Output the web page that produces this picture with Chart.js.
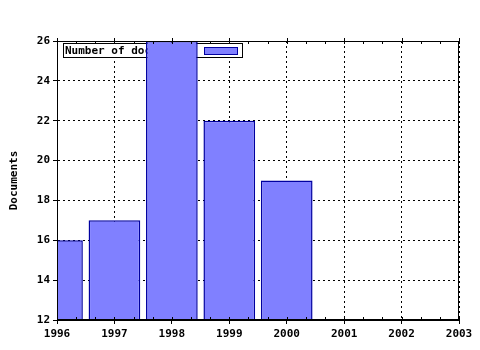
<!DOCTYPE html>
<html>
<head>
<meta charset="utf-8">
<script src="https://cdn.jsdelivr.net/npm/chart.js@4/dist/chart.umd.min.js"></script>
<style>
  html, body { margin: 0; padding: 0; background: #fff; }
  #wrap { width: 480px; height: 350px; }
</style>
</head>
<body>
<div id="wrap"><canvas id="docsChart" width="480" height="350"></canvas></div>
<script>
// Données
const years = [1996, 1997, 1998, 1999, 2000];
const documents = [16, 17, 26, 22, 19];
const seriesLabel = 'Number of documents';

const monoFont = { family: '"DejaVu Sans Mono", monospace', size: 11, weight: 'bold' };

// Cadre, petites graduations et légende dans la zone du graphique
const framePlugin = {
    id: 'frame',
    beforeDatasetsDraw(chart) {
        const { ctx, chartArea: a } = chart;
        const ds = chart.data.datasets[0];
        ctx.save();
        // légende (dessinée sous les barres)
        const lx = a.left + 6, ly = a.top + 2, lw = 179, lh = 14;
        ctx.fillStyle = '#fff';
        ctx.fillRect(lx, ly, lw, lh);
        ctx.strokeStyle = '#000';
        ctx.lineWidth = 1;
        ctx.strokeRect(lx + 0.5, ly + 0.5, lw, lh);
        ctx.fillStyle = '#000';
        ctx.font = 'bold 11px "DejaVu Sans Mono", monospace';
        ctx.textBaseline = 'middle';
        ctx.fillText(ds.label, lx + 2, ly + lh / 2 + 1);
        ctx.fillStyle = ds.backgroundColor;
        ctx.fillRect(lx + 141, ly + 4, 33, 7);
        ctx.strokeStyle = ds.borderColor;
        ctx.strokeRect(lx + 141.5, ly + 4.5, 33, 7);
        ctx.restore();
    },
    afterDatasetsDraw(chart) {
        const { ctx, chartArea: a, scales: { x } } = chart;
        ctx.save();
        ctx.strokeStyle = '#000';
        ctx.lineWidth = 1;
        ctx.strokeRect(Math.round(a.left) + 0.5, Math.round(a.top) + 0.5,
            Math.round(a.right - a.left) - 1, Math.round(a.bottom - a.top) - 1);
        ctx.beginPath();
        for (let v = x.min; v <= x.max + 1e-6; v += 1 / 3) {
            const px = Math.round(x.getPixelForValue(v)) + 0.5;
            ctx.moveTo(px, a.top);
            ctx.lineTo(px, a.top + 3);
            ctx.moveTo(px, a.bottom);
            ctx.lineTo(px, a.bottom - 3);
        }
        for (let v = x.min; v <= x.max; v += 1) {
            const px = Math.round(x.getPixelForValue(v)) + 0.5;
            ctx.moveTo(px, a.top);
            ctx.lineTo(px, a.top - 3);
        }
        ctx.stroke();
        ctx.restore();
    },
};

new Chart(document.getElementById('docsChart'), {
    type: 'bar',
    data: {
        datasets: [{
            label: seriesLabel,
            data: years.map((yr, i) => ({ x: yr, y: documents[i] })),
            backgroundColor: '#8080ff',
            borderColor: '#0000a0',
            borderWidth: 1.5,
            borderSkipped: 'start',
            barPercentage: 0.9,
            categoryPercentage: 1.0,
            clip: 0,
        }],
    },
    options: {
        responsive: false,
        animation: false,
        layout: { padding: { left: 8, top: 41, right: 21, bottom: 0 } },
        plugins: { legend: { display: false }, tooltip: { enabled: false } },
        scales: {
            x: {
                type: 'linear',
                min: 1996,
                max: 2003,
                offset: false,
                afterFit: s => { s.height = 30; },
                ticks: {
                    stepSize: 1,
                    color: '#000',
                    font: monoFont,
                    padding: 4,
                    maxRotation: 0,
                    callback: v => String(v),
                },
                grid: { offset: false, color: '#000', tickColor: '#000', tickLength: 4, tickBorderDash: [] },
                border: { color: '#000', dash: [2, 3] },
            },
            y: {
                min: 12,
                max: 26,
                afterFit: s => { s.width = 49; },
                ticks: { stepSize: 2, color: '#000', font: monoFont, padding: 3 },
                grid: { color: '#000', tickColor: '#000', tickLength: 4, tickBorderDash: [] },
                border: { color: '#000', dash: [2, 3] },
                title: {
                    display: true,
                    text: 'Documents',
                    color: '#000',
                    font: monoFont,
                    padding: 0,
                },
            },
        },
    },
    plugins: [framePlugin],
});
</script>
</body>
</html>
